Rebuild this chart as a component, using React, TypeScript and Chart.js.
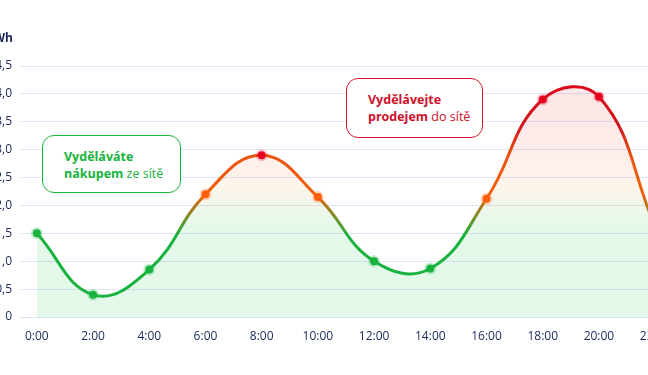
import React, { useEffect, useRef } from "react";
import { Chart, registerables } from "chart.js";

Chart.register(...registerables);

// ---- data ----
const hours = [0, 2, 4, 6, 8, 10, 12, 14, 16, 18, 20, 22];
const energy = [1.5, 0.4, 0.85, 2.2, 2.9, 2.15, 1.0, 0.87, 2.12, 3.9, 3.95, 1.62];
const unitLabel = "kWh";
const buyText = ["Vyděláváte", "nákupem", " ze sítě"];
const sellText = ["Vydělávejte", "prodejem", " do sítě"];

const NAVY = "#1a2858";
const GREEN = "#17b33e";
const ORANGE = "#ff5f0a";
const RED = "#e6001e";
const FONT = "'Open Sans', 'DejaVu Sans', sans-serif";

function pointColor(v: number) {
  if (v >= 2.5) return RED;
  if (v >= 2.0) return ORANGE;
  return GREEN;
}
function pointHalo(v: number) {
  if (v >= 2.5) return "rgba(230,0,30,0.22)";
  if (v >= 2.0) return "rgba(255,95,10,0.25)";
  return "rgba(23,179,62,0.25)";
}

const unitPlugin = {
  id: "unitTitle",
  afterDraw(chart: any) {
    const c = chart.ctx;
    c.save();
    c.font = `bold 12px ${FONT}`;
    c.fillStyle = NAVY;
    c.textAlign = "right";
    c.textBaseline = "middle";
    c.fillText(unitLabel, 43, 39);
    c.restore();
  },
};

export default function App() {
  const ref = useRef<HTMLCanvasElement | null>(null);

  useEffect(() => {
    if (!ref.current) return;
    const chart = new Chart(ref.current, {
      type: "line",
      data: {
        datasets: [
          {
            data: hours.map((h, i) => ({ x: h, y: energy[i] })),
            tension: 0.43,
            borderWidth: 3,
            fill: "origin",
            borderColor: (ctx: any) => {
              const ch = ctx.chart;
              if (!ch.chartArea) return GREEN;
              const y = ch.scales.y;
              const y0 = y.getPixelForValue(0);
              const y1 = y.getPixelForValue(4.5);
              const g = ch.ctx.createLinearGradient(0, y0, 0, y1);
              g.addColorStop(0, GREEN);
              g.addColorStop(1.45 / 4.5, GREEN);
              g.addColorStop(2.2 / 4.5, "#f0620c");
              g.addColorStop(2.9 / 4.5, "#ea5210");
              g.addColorStop(3.4 / 4.5, "#cf181c");
              g.addColorStop(1, "#e4001a");
              return g;
            },
            backgroundColor: (ctx: any) => {
              const ch = ctx.chart;
              if (!ch.chartArea) return "rgba(30,200,80,0.12)";
              const y = ch.scales.y;
              const y0 = y.getPixelForValue(0);
              const y1 = y.getPixelForValue(4.5);
              const g = ch.ctx.createLinearGradient(0, y0, 0, y1);
              g.addColorStop(0, "rgba(30,200,80,0.12)");
              g.addColorStop(1.6 / 4.5, "rgba(30,200,80,0.12)");
              g.addColorStop(2.4 / 4.5, "rgba(240,150,60,0.10)");
              g.addColorStop(3.4 / 4.5, "rgba(240,40,40,0.10)");
              g.addColorStop(1, "rgba(240,30,30,0.11)");
              return g;
            },
            pointRadius: 4,
            pointHoverRadius: 4,
            pointBorderWidth: 4,
            pointBackgroundColor: energy.map(pointColor),
            pointBorderColor: energy.map(pointHalo),
          },
        ],
      },
      options: {
        responsive: false,
        animation: false,
        layout: { padding: { top: 66, left: 0, right: 18, bottom: 0 } },
        plugins: {
          legend: { display: false },
          tooltip: { enabled: false },
        },
        scales: {
          x: {
            type: "linear",
            min: -0.6,
            max: 22.6,
            grid: { display: false, drawTicks: false },
            border: { display: true, color: "#d5e3f6", width: 1 },
            ticks: {
              stepSize: 2,
              includeBounds: false,
              autoSkip: false,
              maxRotation: 0,
              padding: 12,
              color: NAVY,
              font: { family: FONT, size: 12 },
              callback: (v: any) => `${v}:00`,
            },
            afterFit: (s: any) => {
              s.height = 58;
            },
          },
          y: {
            min: 0,
            max: 4.5,
            grid: { color: "#e2e4f8", drawTicks: false },
            border: { display: false },
            ticks: {
              stepSize: 0.5,
              padding: 8,
              color: NAVY,
              font: { family: FONT, size: 12 },
              callback: (v: any) =>
                Number(v) === 0 ? "0" : Number(v).toFixed(1).replace(".", ","),
            },
            afterFit: (s: any) => {
              s.width = 50;
            },
          },
        },
      },
      plugins: [unitPlugin],
    } as any);
    return () => chart.destroy();
  }, []);

  const boxBase: React.CSSProperties = {
    position: "absolute",
    boxSizing: "border-box",
    borderRadius: 12,
    background: "#fff",
    fontFamily: FONT,
    fontSize: 12.5,
    lineHeight: "17px",
    padding: "12px 0 0 21px",
  };

  return (
    <div
      style={{
        position: "fixed",
        left: 0,
        top: 0,
        width: 648,
        height: 375,
        overflow: "hidden",
        background: "#fff",
      }}
    >
      <canvas
        ref={ref}
        width={720}
        height={375}
        style={{ position: "absolute", left: -30, top: 0, width: 720, height: 375 }}
      />
      <div
        style={{
          ...boxBase,
          left: 42,
          top: 135,
          width: 139,
          height: 58,
          border: `1.5px solid ${GREEN}`,
          color: GREEN,
        }}
      >
        <div style={{ fontWeight: 700 }}>{buyText[0]}</div>
        <div>
          <span style={{ fontWeight: 700 }}>{buyText[1]}</span>
          <span>{buyText[2]}</span>
        </div>
      </div>
      <div
        style={{
          ...boxBase,
          left: 346,
          top: 78,
          width: 137,
          height: 60,
          border: `1.5px solid #d8142c`,
          color: "#d0102a",
        }}
      >
        <div style={{ fontWeight: 700 }}>{sellText[0]}</div>
        <div>
          <span style={{ fontWeight: 700 }}>{sellText[1]}</span>
          <span>{sellText[2]}</span>
        </div>
      </div>
    </div>
  );
}
